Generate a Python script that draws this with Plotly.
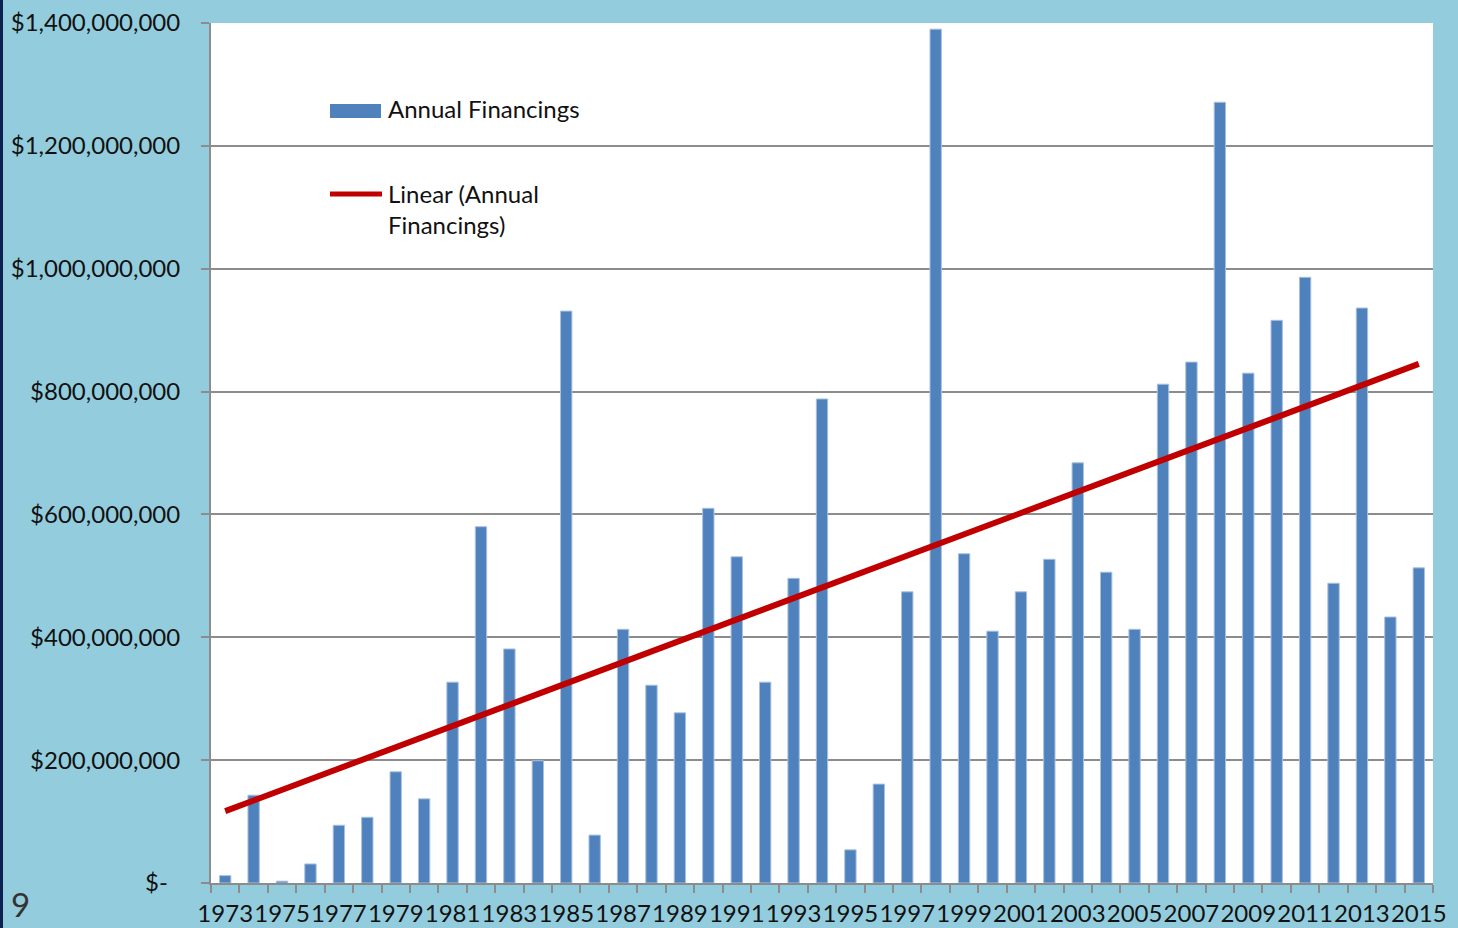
import plotly.graph_objects as go

years = list(range(1973, 2016))
financings = [
    12e6, 143e6, 3e6, 31e6, 94e6, 107e6, 181e6, 137e6, 327e6, 580e6,
    381e6, 199e6, 931e6, 78e6, 413e6, 322e6, 277e6, 610e6, 531e6, 327e6,
    496e6, 788e6, 54e6, 161e6, 474e6, 1390e6, 536e6, 410e6, 474e6, 527e6,
    684e6, 506e6, 413e6, 812e6, 848e6, 1271e6, 830e6, 916e6, 986e6, 488e6,
    936e6, 433e6, 513e6,
]
trend_years = [1973, 2015]
trend_values = [117e6, 845e6]

y_tickvals = [0, 200e6, 400e6, 600e6, 800e6, 1000e6, 1200e6, 1400e6]
y_ticktext = ["$-\u00a0\u00a0", "$200,000,000", "$400,000,000", "$600,000,000",
              "$800,000,000", "$1,000,000,000", "$1,200,000,000", "$1,400,000,000"]
x_tickvals = list(range(1973, 2016, 2))
x_ticktext = [str(y) for y in x_tickvals]

W, H = 1458, 928
L, R, T, B = 211, 1433, 23, 883


def px(x):
    return (x - L) / (R - L)


def py(y):
    return (B - y) / (B - T)


FONT = "Lato"
GRID = "#8C8C8C"

fig = go.Figure()
fig.add_trace(go.Bar(
    x=years, y=financings, width=0.4, name="Annual Financings",
    marker=dict(color="#4F81BD", line=dict(color="#A9C1DF", width=1)),
))
fig.add_trace(go.Scatter(
    x=trend_years, y=trend_values, mode="lines", name="Linear (Annual Financings)",
    line=dict(color="#C00000", width=6),
))

shapes = [
    dict(type="rect", xref="paper", yref="paper", x0=px(0), x1=px(3), y0=py(H), y1=py(0),
         fillcolor="#0B2150", line=dict(width=0), layer="above"),
    dict(type="rect", xref="paper", yref="paper", x0=px(330), x1=px(381), y0=py(118), y1=py(104),
         fillcolor="#4F81BD", line=dict(width=0)),
    dict(type="line", xref="paper", yref="paper", x0=px(330), x1=px(382), y0=py(194), y1=py(194),
         line=dict(color="#C00000", width=5)),
]

annotations = [
    dict(xref="paper", yref="paper", x=px(386), y=py(109), xanchor="left", yanchor="middle",
         text="Annual Financings", showarrow=False, font=dict(family=FONT, size=24, color="#111")),
    dict(xref="paper", yref="paper", x=px(386), y=py(209), xanchor="left", yanchor="middle",
         text="Linear (Annual<br>Financings)", align="left", showarrow=False,
         font=dict(family=FONT, size=24, color="#111")),
    dict(xref="paper", yref="paper", x=px(9), y=py(904), xanchor="left", yanchor="middle",
         text="9", showarrow=False, font=dict(family=FONT, size=33, color="#333")),
]

fig.update_layout(
    width=W, height=H,
    margin=dict(l=L, r=W - R, t=T, b=H - B, pad=0, autoexpand=False),
    paper_bgcolor="#93CDDD", plot_bgcolor="#FFFFFF",
    showlegend=False, bargap=0.6,
    shapes=shapes, annotations=annotations,
    font=dict(family=FONT, size=24, color="#111"),
    xaxis=dict(
        range=[1972.5, 2015.5], tickmode="array", tickvals=x_tickvals, ticktext=x_ticktext,
        ticks="", showgrid=False, showline=True, linecolor=GRID, linewidth=2,
        tickangle=0, automargin=False,
        tickfont=dict(family=FONT, size=24, color="#111"), ticklabelstandoff=8,
        minor=dict(tickmode="linear", tick0=1972.5, dtick=1, ticks="outside", ticklen=8,
                   tickwidth=2, tickcolor=GRID, showgrid=False),
        zeroline=False,
    ),
    yaxis=dict(
        range=[0, 1.4e9], tickmode="array", tickvals=y_tickvals, ticktext=y_ticktext,
        ticks="outside", ticklen=8, tickwidth=2, tickcolor=GRID, automargin=False,
        showgrid=True, gridcolor=GRID, gridwidth=1.5,
        showline=True, linecolor=GRID, linewidth=2, zeroline=False,
        tickfont=dict(family=FONT, size=24, color="#111"), ticklabelstandoff=16,
    ),
)

fig.write_html("out.html")
